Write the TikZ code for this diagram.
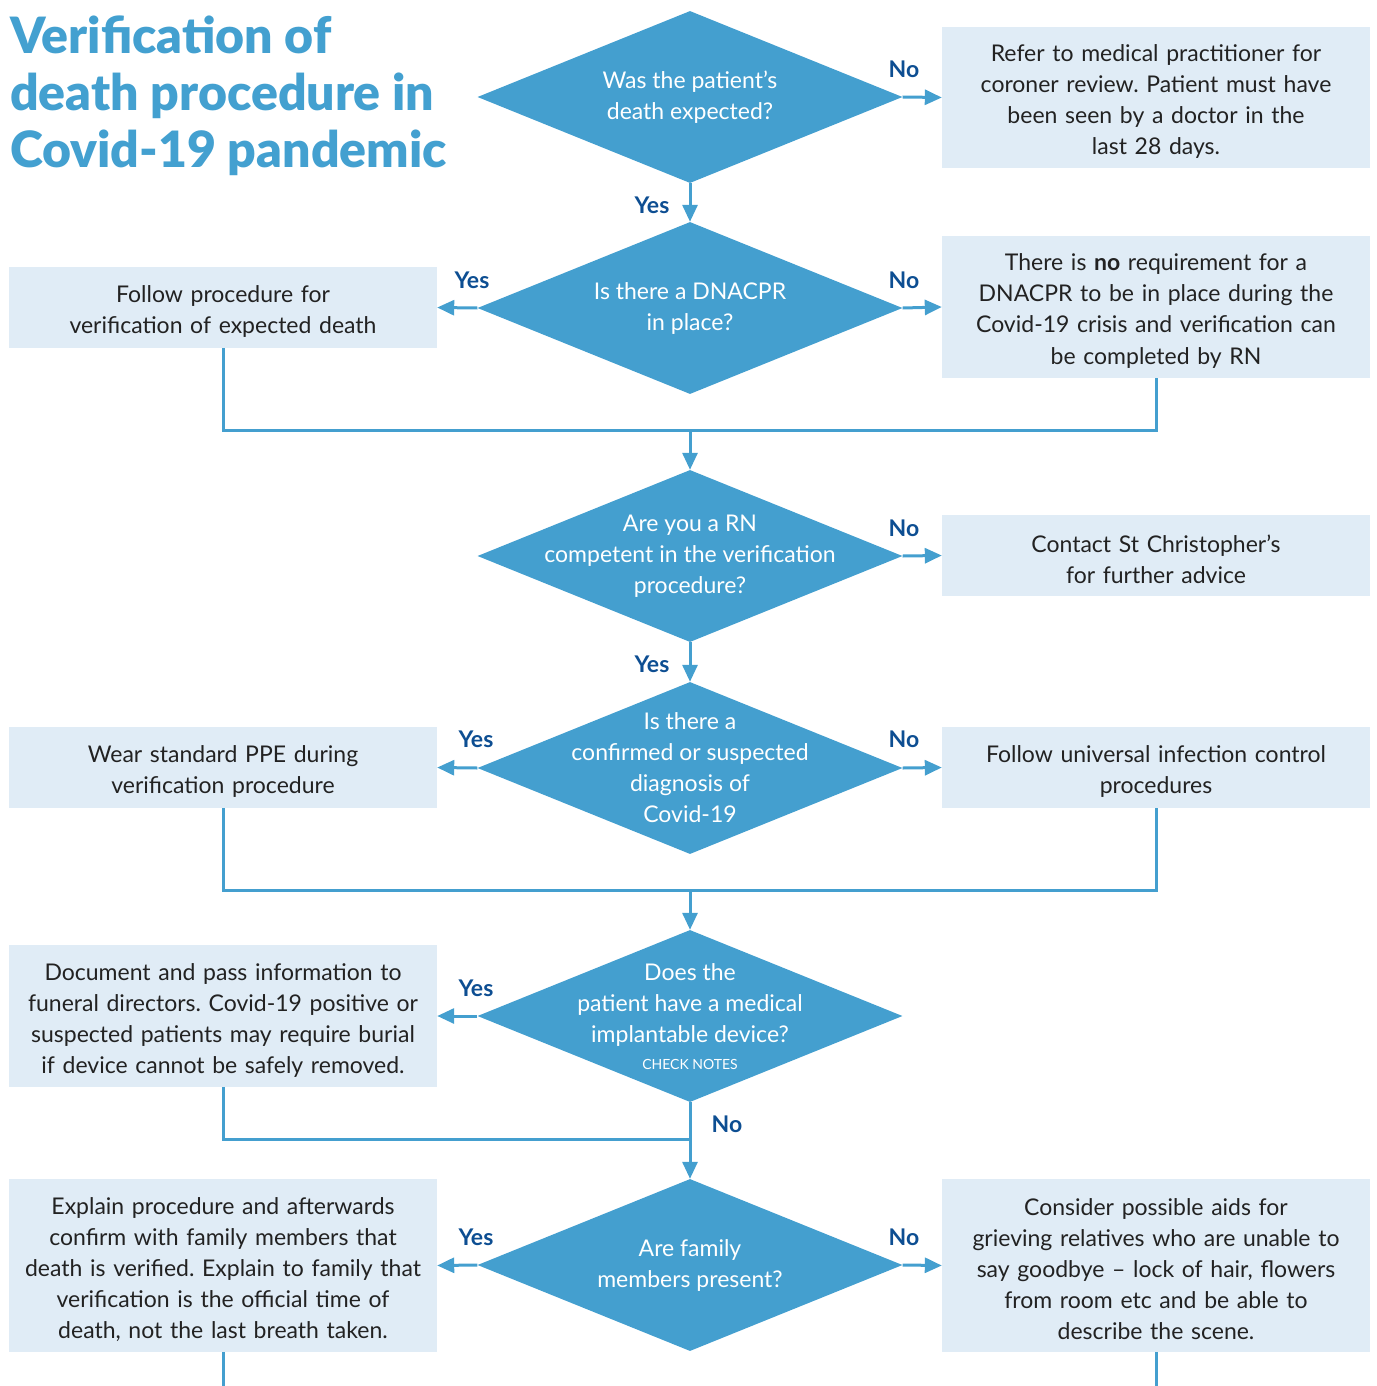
\documentclass[tikz,border=0pt]{standalone}
\usepackage{fontspec}
\setmainfont{Lato}
\newfontfamily\ttlfont{Lato-Black.ttf}
\usetikzlibrary{shapes.geometric,arrows.meta}
\frenchspacing
\definecolor{dblue}{HTML}{449FCF}
\definecolor{lbox}{HTML}{E0ECF6}
\definecolor{lab}{HTML}{0D4E92}
\definecolor{txt}{HTML}{222222}
\definecolor{ttl}{HTML}{43A0D0}
\tikzset{
  dia/.style={diamond,fill=dblue,inner sep=0pt,minimum width=425pt,minimum height=172pt},
  dtext/.style={text=white,align=center,font=\fontsize{23}{31}\selectfont},
  box/.style={rectangle,fill=lbox,inner sep=0pt,minimum width=428pt},
  btext/.style={inner sep=0pt,text width=415pt,align=center,text=txt,font=\fontsize{23}{31}\selectfont},
  conn/.style={draw=dblue,line width=3pt},
  arr/.style={conn,-{Triangle[length=17pt,width=15pt]}},
  lbl/.style={text=lab,font=\fontsize{23}{25}\selectfont\bfseries},
}
\begin{document}
\begin{tikzpicture}[x=1pt,y=-1pt]
\useasboundingbox (0,0) rectangle (1376,1386);
% title
\node[anchor=north west,inner sep=0pt,align=left,text=ttl,font=\fontsize{50}{57}\selectfont\ttlfont] (title) at (10,16) {Verification of\\death procedure in\\Covid-19 pandemic};
% diamonds
\node[dia] (d1) at (690,97) {};
\node[dtext] (t1) at (d1) {Was the patient’s\\death expected?};
\node[dia] (d2) at (690,308) {};
\node[dtext] (t2) at (d2) {Is there a DNACPR\\in place?};
\node[dia] (d3) at (690,556) {};
\node[dtext] (t3) at (d3) {Are you a RN\\competent in the verification\\procedure?};
\node[dia] (d4) at (690,768) {};
\node[dtext] (t4) at (d4) {Is there a\\confirmed or suspected\\diagnosis of\\Covid-19};
\node[dia] (d5) at (690,1016) {};
\node[dtext] (t5) at (690,1005) {Does the\\patient have a medical\\implantable device?};
\node[text=white,font=\fontsize{14}{16}\selectfont] (t5b) at (690,1064) {CHECK NOTES};
\node[dia] (d6) at (690,1265) {};
\node[dtext] (t6) at (d6) {Are family\\members present?};
% boxes
\node[box,minimum height=141pt] (b1) at (1156,97.5) {};
\node[btext] (b1t) at ([yshift=-4pt]b1.center) {Refer to medical practitioner for\\coroner review. Patient must have\\been seen by a doctor in the\\last 28 days.};
\node[box,minimum height=81pt] (lb2) at (223,307.5) {};
\node[btext] (lb2t) at ([yshift=-4pt]lb2.center) {Follow procedure for\\verification of expected death};
\node[box,minimum height=142pt] (rb2) at (1156,307) {};
\node[btext] (rb2t) at ([yshift=-4pt]rb2.center) {There is \textbf{no} requirement for a\\DNACPR to be in place during the\\Covid-19 crisis and verification can\\be completed by RN};
\node[box,minimum height=81pt] (rb3) at (1156,555.5) {};
\node[btext] (rb3t) at ([yshift=-4pt]rb3.center) {Contact St Christopher’s\\for further advice};
\node[box,minimum height=81pt] (lb4) at (223,767.5) {};
\node[btext] (lb4t) at ([yshift=-4pt]lb4.center) {Wear standard PPE during\\verification procedure};
\node[box,minimum height=81pt] (rb4) at (1156,767.5) {};
\node[btext] (rb4t) at ([yshift=-4pt]rb4.center) {Follow universal infection control\\procedures};
\node[box,minimum height=142pt] (lb5) at (223,1016) {};
\node[btext] (lb5t) at ([yshift=-4pt]lb5.center) {Document and pass information to\\funeral directors. Covid-19 positive or\\suspected patients may require burial\\if device cannot be safely removed.};
\node[box,minimum height=173pt] (lb6) at (223,1265.5) {};
\node[btext] (lb6t) at ([yshift=-4pt]lb6.center) {Explain procedure and afterwards\\confirm with family members that\\death is verified. Explain to family that\\verification is the official time of\\death, not the last breath taken.};
\node[box,minimum height=173pt] (rb6) at (1156,1265.5) {};
\node[btext] (rb6t) at ([yshift=-4pt]rb6.center) {Consider possible aids for\\grieving relatives who are unable to\\say goodbye -- lock of hair, flowers\\from room etc and be able to\\describe the scene.};
% junction coordinates
\coordinate (j1) at (690,430);
\coordinate (j2) at (690,890);
\coordinate (j3) at (690,1139);
\coordinate (e1) at (223,1386);
\coordinate (e2) at (1156,1386);
% connectors
\draw[arr] (d1.east) -- (b1.west);
\draw[arr] (d1.south) -- (d2.north);
\draw[arr] (d2.west) -- (lb2.east);
\draw[arr] (d2.east) -- (rb2.west);
\draw[conn] (lb2.south) |- (j1) -| (rb2.south);
\draw[arr] (j1) -- (d3.north);
\draw[arr] (d3.east) -- (rb3.west);
\draw[arr] (d3.south) -- (d4.north);
\draw[arr] (d4.west) -- (lb4.east);
\draw[arr] (d4.east) -- (rb4.west);
\draw[conn] (lb4.south) |- (j2) -| (rb4.south);
\draw[arr] (j2) -- (d5.north);
\draw[arr] (d5.west) -- (lb5.east);
\draw[conn] (lb5.south) |- (j3);
\draw[arr] (d5.south) -- (d6.north);
\draw[arr] (d6.west) -- (lb6.east);
\draw[arr] (d6.east) -- (rb6.west);
\draw[conn] (lb6.south) -- (e1);
\draw[conn] (rb6.south) -- (e2);
% labels
\node[lbl] (n1) at (904,69) {No};
\node[lbl] (y1) at (652,205) {Yes};
\node[lbl] (y2) at (472,280) {Yes};
\node[lbl] (n2) at (904,280) {No};
\node[lbl] (n3) at (904,528) {No};
\node[lbl] (y3) at (652,664) {Yes};
\node[lbl] (y4) at (476,739) {Yes};
\node[lbl] (n4) at (904,739) {No};
\node[lbl] (y5) at (476,988) {Yes};
\node[lbl] (n5) at (727,1124) {No};
\node[lbl] (y6) at (476,1237) {Yes};
\node[lbl] (n6) at (904,1237) {No};
\end{tikzpicture}
\end{document}
